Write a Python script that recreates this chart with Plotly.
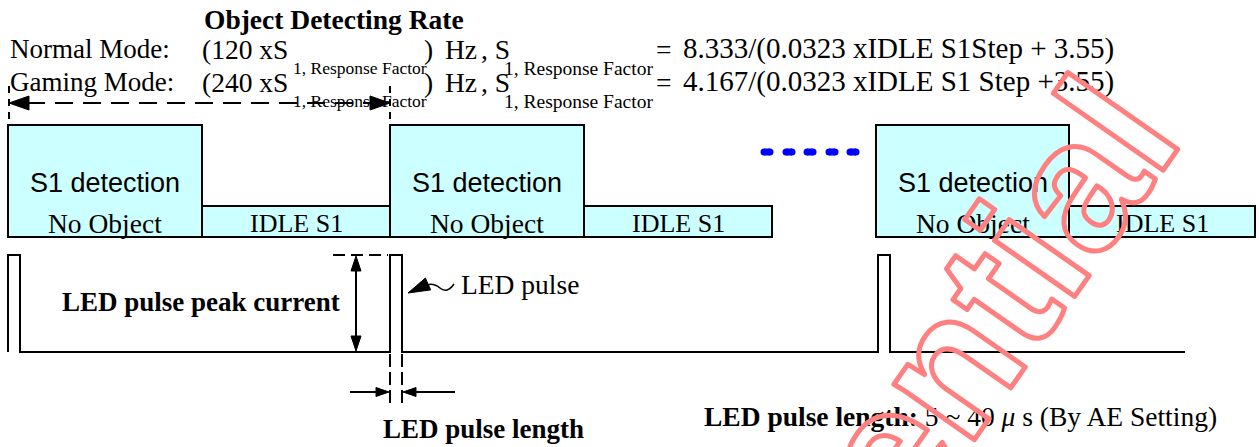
import plotly.graph_objects as go

# ---------------- data ----------------
W, H = 1259, 447
title_text = "Object Detecting Rate"
mode_names = ["Normal Mode:", "Gaming Mode:"]
rate_factors = ["120", "240"]
s1_formulas = ["8.333/(0.0323 xIDLE S1Step + 3.55)",
               "4.167/(0.0323 xIDLE S1 Step +3.55)"]
sub_label = "1, Response Factor"

frame_start = [8, 390, 876]          # start of each S1 detection window
s1_length = [194, 194, 193]
idle_length = [188, 188, 186]
s1_label = "S1 detection"
s1_sublabel = "No Object"
idle_label = "IDLE S1"

pulse_start = [8, 390, 878]          # LED pulses
pulse_length = 12
signal_end = 1185
signal_low, signal_high = 352, 255

ellipsis_centers = [767, 789, 810, 832, 853]
watermark = "Confidential"

# ---------------- styles ----------------
SERIF = "Liberation Serif"
SANS = "Liberation Sans"
BOX_FILL = "#CCFFFF"
LW = 2
FS = 27.5

fig = go.Figure()
shapes = []
ann = []


def text(x, y, t, size=FS, family=SERIF, xanchor="center", bold=False, color="black"):
    if bold:
        t = "<b>" + t + "</b>"
    ann.append(dict(x=x, y=y, xref="x", yref="y", text=t, showarrow=False,
                    xanchor=xanchor, yanchor="middle",
                    font=dict(family=family, size=size, color=color)))


def line(x0, y0, x1, y1, dash="solid", width=LW, color="black"):
    shapes.append(dict(type="line", xref="x", yref="y", x0=x0, y0=y0, x1=x1, y1=y1,
                       line=dict(color=color, width=width, dash=dash)))


def head(tx, ty, dx, dy, length, half):
    n = (dx * dx + dy * dy) ** 0.5
    dx, dy = dx / n, dy / n
    bx, by = tx - dx * length, ty - dy * length
    px, py = -dy, dx
    path = (f"M {tx},{ty} L {bx + px * half},{by + py * half} "
            f"L {bx - px * half},{by - py * half} Z")
    shapes.append(dict(type="path", xref="x", yref="y", path=path,
                       fillcolor="black", line=dict(color="black", width=1)))


# ---------------- header text ----------------
text(334, 19, title_text, bold=True)
for i in range(2):
    ym = 49 + 33 * i
    ys = 68 + 33 * i
    text(8, ym, mode_names[i], size=27, xanchor="left")
    text(200, ym, "(" + rate_factors[i] + " xS", xanchor="left")
    text(291, ys, sub_label, size=17.5, xanchor="left")
    text(422, ym, ")", xanchor="left")
    text(443, ym, "Hz", xanchor="left")
    text(479, ym, ", S", xanchor="left")
    text(502, ys, sub_label, size=19.5, xanchor="left")
    text(654, ym, "=", xanchor="left")
    text(681, ym - 1, s1_formulas[i], size=29, xanchor="left")

# ---------------- period arrow ----------------
p0, p1 = frame_start[0] + 1, frame_start[1]
line(p0, 86, p0, 125, dash="7px,6px")
line(p1, 86, p1, 125, dash="7px,6px")
line(p0 + 18, 103, p1 - 18, 103, dash="18px,10px")
head(p0, 103, -1, 0, 20, 7)
head(p1, 103, 1, 0, 20, 7)

# ---------------- state blocks ----------------
for st, sl, il in zip(frame_start, s1_length, idle_length):
    shapes.append(dict(type="rect", xref="x", yref="y", x0=st, x1=st + sl, y0=125, y1=237,
                       fillcolor=BOX_FILL, line=dict(color="black", width=LW)))
    shapes.append(dict(type="rect", xref="x", yref="y", x0=st + sl, x1=st + sl + il,
                       y0=206, y1=237, fillcolor=BOX_FILL, line=dict(color="black", width=LW)))
    text(st + sl / 2, 182.5, s1_label, size=27, family=SANS)
    text(st + sl / 2, 223, s1_sublabel, size=27.5)
    text(st + sl + il / 2, 223, idle_label, size=26)

# ellipsis dots
ex, ey = [], []
for c in ellipsis_centers:
    ex += [c - 3, c + 3, None]
    ey += [152, 152, None]
fig.add_trace(go.Scatter(x=ex, y=ey, mode="lines+markers", hoverinfo="skip",
                         line=dict(color="#0000FF", width=7),
                         marker=dict(color="#0000FF", size=7), showlegend=False))

# ---------------- LED signal ----------------
sx, sy = [], []
for k, ps in enumerate(pulse_start):
    if k > 0:
        sx.append(ps); sy.append(signal_low)
    sx += [ps, ps, ps + pulse_length, ps + pulse_length]
    sy += [signal_low, signal_high, signal_high, signal_low]
sx.append(signal_end); sy.append(signal_low)
fig.add_trace(go.Scatter(x=sx, y=sy, mode="lines", hoverinfo="skip",
                         line=dict(color="black", width=LW), showlegend=False))

# peak current dimension
pk = pulse_start[1]
line(pk - 57, signal_high, pk - 2, signal_high, dash="12px,6px")
line(pk - 34, signal_high + 14, pk - 34, signal_low - 14)
head(pk - 34, signal_high + 1, 0, -1, 15, 5)
head(pk - 34, signal_low - 1, 0, 1, 15, 5)
text(201, 302, "LED pulse peak current", bold=True, size=27)

# pulse length dimension
pe = pulse_start[1] + pulse_length
line(pk, signal_low + 2, pk, 408, dash="13px,5px")
line(pe, signal_low + 2, pe, 408, dash="13px,5px")
line(pk - 40, 392, pk - 12, 392)
head(pk - 1, 392, 1, 0, 13, 4.5)
line(pe + 53, 392, pe + 12, 392)
head(pe + 1, 392, -1, 0, 13, 4.5)
text(483, 429, "LED pulse length", bold=True, size=27)

# LED pulse pointer
tip_x, tip_y = pe + 6, 293
head(tip_x, tip_y, -20, 9, 22, 6.5)
shapes.append(dict(type="path", xref="x", yref="y",
                   path=f"M {tip_x + 14},{tip_y - 6} Q {tip_x + 24},{tip_y - 12} {tip_x + 32},{tip_y - 5} "
                        f"Q {tip_x + 39},{tip_y + 1} {tip_x + 46},{tip_y - 9}",
                   line=dict(color="black", width=1.5)))
text(459, 284, "LED pulse", xanchor="left")

text(702, 416, "<b>LED pulse length:</b> 5 ~ 40 <i>μ</i> s (By AE Setting)", xanchor="left")

# watermark (outlined via post script); paper coords so it is not hidden
ann.append(dict(x=826 / W, y=1 - 540 / H, xref="paper", yref="paper", text=watermark,
                showarrow=False, xanchor="center", yanchor="middle", textangle=-55,
                font=dict(family=SANS, size=185, color="#FF8080", weight="bold")))

fig.update_layout(
    width=W, height=H, margin=dict(l=0, r=0, t=0, b=0),
    paper_bgcolor="white", plot_bgcolor="white",
    xaxis=dict(range=[0, W], visible=False, fixedrange=True),
    yaxis=dict(range=[H, 0], visible=False, fixedrange=True),
    shapes=shapes, annotations=ann, showlegend=False,
)

post = """
document.body.style.margin = '0';
document.body.style.overflow = 'hidden';
var gd = document.getElementById('{plot_id}');
function wm(){
  gd.querySelectorAll('text.annotation-text').forEach(function(t){
    if (t.textContent.trim() === 'Confidential') {
      t.style.fill = 'none';
      t.style.stroke = '#FF8080';
      t.style.strokeWidth = '5px';
      t.style.strokeLinejoin = 'round';
    }
  });
}
wm();
gd.on('plotly_afterplot', wm);
"""
fig.write_html("out.html", config={"displayModeBar": False}, post_script=post)
